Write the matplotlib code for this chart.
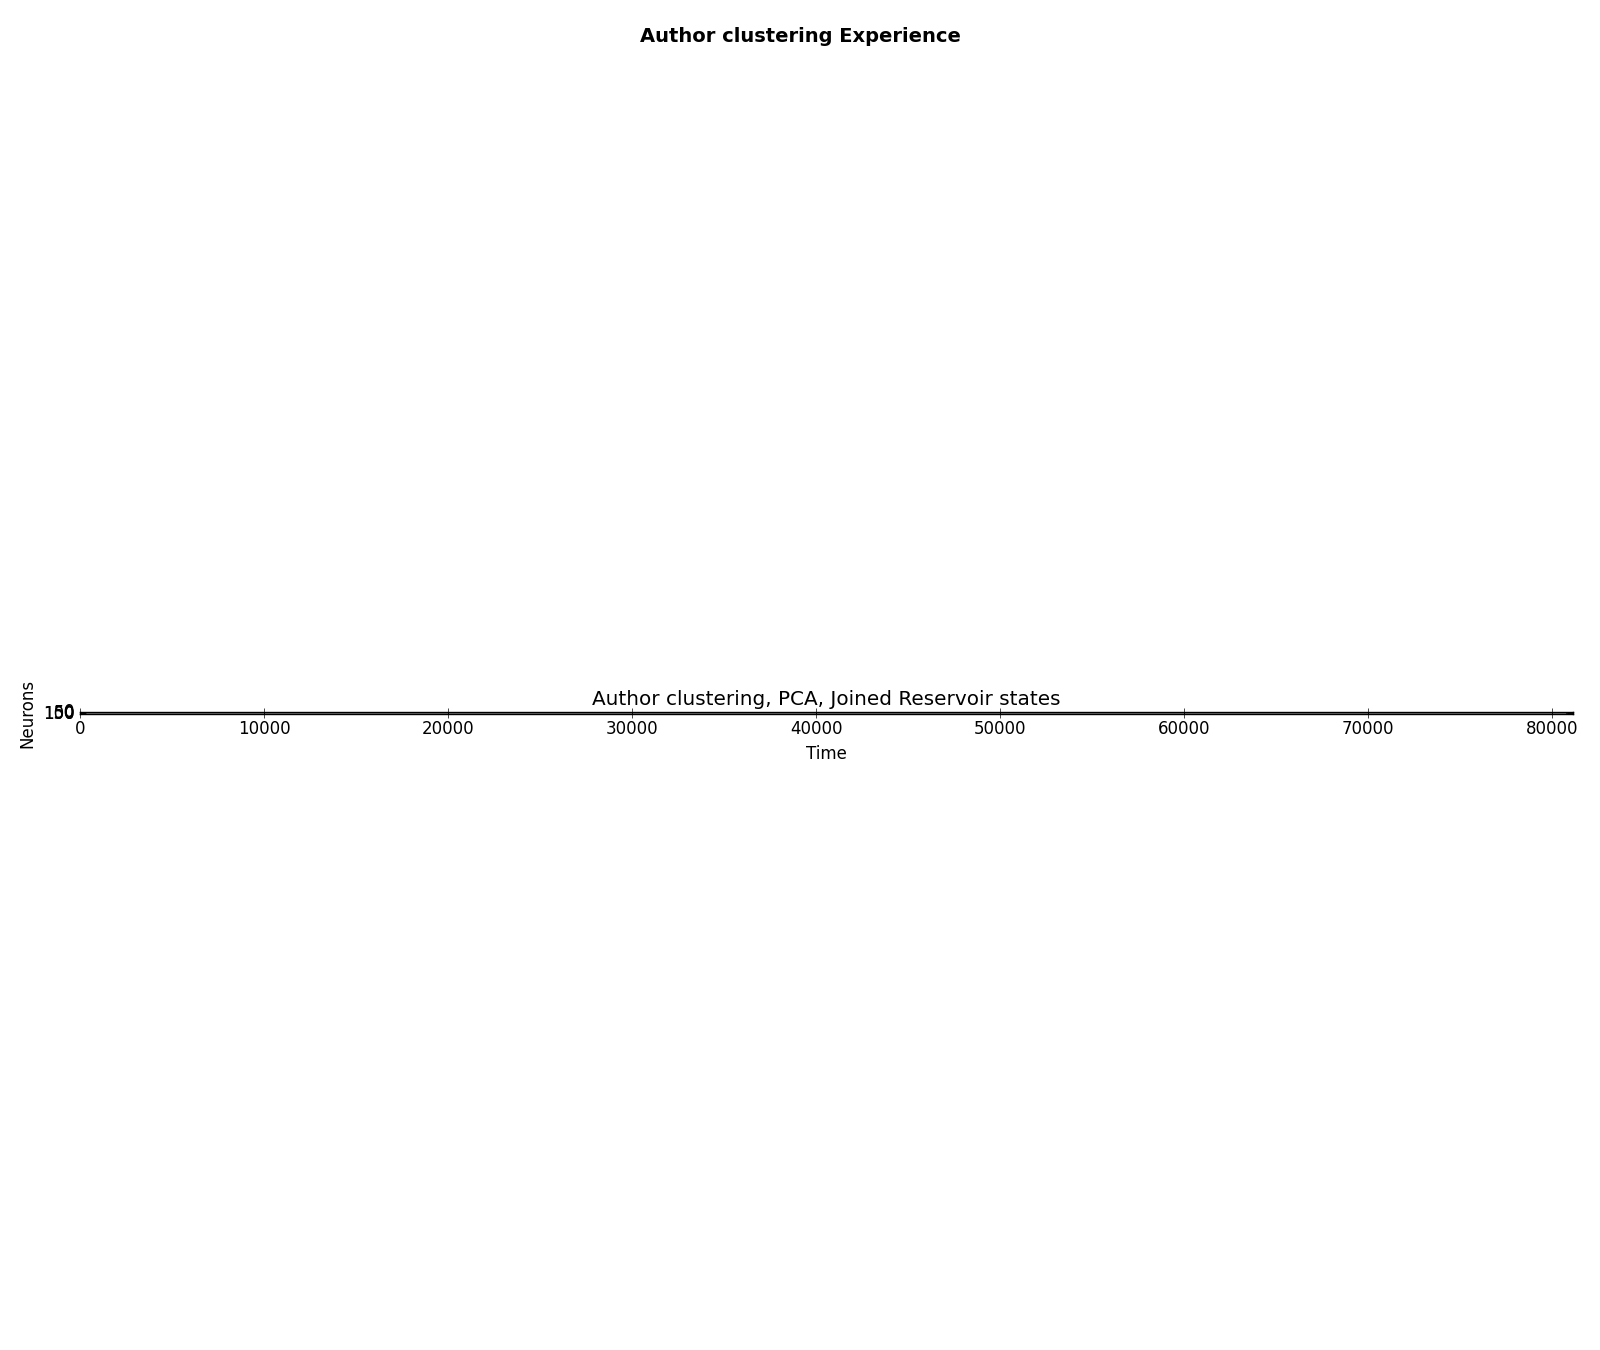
import numpy as np
import matplotlib
matplotlib.use('Agg')
import matplotlib.pyplot as plt

plt.style.use('classic')

# ---- data: joined reservoir states after PCA (neurons x time) ----
n_neurons = 150
n_steps = 81100

# gray level per band of neurons (rows): mid gray edges, lighter centre
neuron_bands = [50, 50, 50]
neuron_levels = [0.52, 0.78, 0.52]

# gray level per block of time (columns): dark at the start and at the end
time_blocks = [330, 80370, 400]
time_levels = [0.35, 1.0, 0.35]

row_vals = np.repeat(neuron_levels, neuron_bands)
col_vals = np.repeat(time_levels, time_blocks)
states = np.outer(row_vals, col_vals)

fig = plt.figure(figsize=(16, 13.5), dpi=100, facecolor='white')
fig.suptitle('Author clustering Experience', fontsize=14, fontweight='bold')

ax = fig.add_subplot(111)
ax.imshow(states, cmap='gray', vmin=0, vmax=1, interpolation='nearest', aspect='equal')
ax.set_title('Author clustering, PCA, Joined Reservoir states')
ax.set_xlabel('Time')
ax.set_ylabel('Neurons')
ax.set_yticks([0, 50, 100, 150])
ax.set_xlim(0, n_steps)
ax.set_ylim(n_neurons, 0)

plt.tight_layout()

# the strip sits a little lower in the reference
pos = ax.get_position(original=True)
ax.set_position([pos.x0, pos.y0 - 0.0145, pos.width, pos.height])

plt.savefig('out.png', dpi=100, facecolor='white')
